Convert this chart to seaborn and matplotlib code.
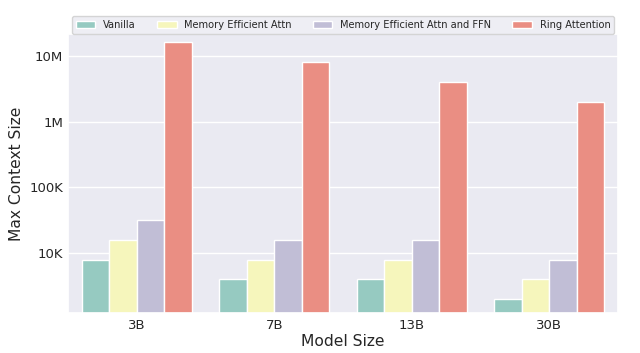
import pandas as pd
import numpy as np
import seaborn as sns
import matplotlib.pyplot as plt

# data
model_sizes = ['3B', '7B', '13B', '30B']
methods = ['Vanilla', 'Memory Efficient Attn', 'Memory Efficient Attn and FFN', 'Ring Attention']
vanilla = [8e3, 4e3, 4e3, 2e3]
mem_eff_attn = [16e3, 8e3, 8e3, 4e3]
mem_eff_attn_ffn = [32e3, 16e3, 16e3, 8e3]
ring_attention = [16e6, 8e6, 4e6, 2e6]

rows = []
for name, vals in zip(methods, [vanilla, mem_eff_attn, mem_eff_attn_ffn, ring_attention]):
    for size, v in zip(model_sizes, vals):
        rows.append({'Model Size': size, 'Method': name, 'Max Context Size': v})
df = pd.DataFrame(rows)

sns.set_theme(style='darkgrid')
fig, ax = plt.subplots(figsize=(6.4, 3.53), dpi=100)

sns.barplot(data=df, x='Model Size', y='Max Context Size', hue='Method',
            palette='Set3', ax=ax)
ax.set_yscale('log')

ax.set_ylim(1230, 2.15e7)
ticks = [1e4, 1e5, 1e6, 1e7]
ax.set_yticks(ticks)
ax.set_yticklabels(['10K', '100K', '1M', '10M'])
ax.yaxis.set_minor_locator(plt.NullLocator())
ax.tick_params(axis='y', labelsize=9.5, pad=3.5, length=0)
ax.tick_params(axis='x', labelsize=9.5, pad=4, length=0)
ax.set_xlabel('Model Size', fontsize=11.2, labelpad=2)
ax.set_ylabel('Max Context Size', fontsize=11.2, labelpad=4)

ax.legend(loc='lower center', bbox_to_anchor=(0.5, 1.0), ncol=4, fontsize=7.1,
          frameon=True, handlelength=2.0, handletextpad=0.8, columnspacing=2.1,
          borderpad=0.4, borderaxespad=0)

plt.subplots_adjust(left=0.106, right=0.966, top=0.904, bottom=0.113)
plt.savefig('out.png', dpi=100)
